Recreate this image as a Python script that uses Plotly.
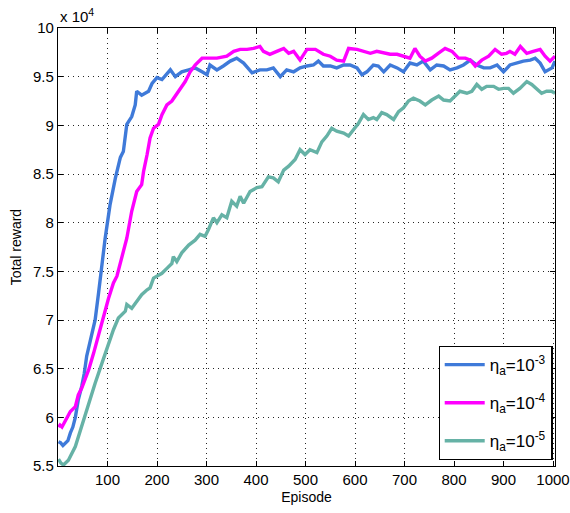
import plotly.graph_objects as go

# Total reward in units of 1e4
ep_1e3 = [1, 5, 10, 15, 20, 25, 30, 35, 41, 48,
          53, 58, 65, 75, 82, 89, 95, 105, 116, 126,
          132, 139, 149, 156, 159, 169, 183, 190, 200, 210,
          227, 237, 250, 264, 277, 291, 301, 307, 321, 334,
          348, 361, 375, 392, 408, 422, 435, 449, 462, 476,
          489, 503, 516, 526, 536, 550, 563, 577, 590, 604,
          614, 624, 637, 647, 658, 671, 685, 698, 711, 725,
          738, 752, 765, 779, 792, 806, 819, 833, 846, 860,
          873, 887, 900, 913, 927, 940, 954, 964, 974, 984,
          998, 1004]
rw_1e3 = [5.75, 5.74, 5.71, 5.73, 5.76, 5.84, 5.90, 6.00, 6.18, 6.32,
          6.45, 6.63, 6.80, 7.00, 7.28, 7.62, 7.83, 8.18, 8.46, 8.67,
          8.73, 9.01, 9.09, 9.21, 9.35, 9.31, 9.35, 9.43, 9.49, 9.47,
          9.57, 9.50, 9.55, 9.57, 9.59, 9.55, 9.52, 9.62, 9.57, 9.61,
          9.66, 9.69, 9.64, 9.54, 9.57, 9.57, 9.59, 9.50, 9.57, 9.55,
          9.59, 9.61, 9.62, 9.66, 9.61, 9.61, 9.59, 9.62, 9.62, 9.59,
          9.52, 9.55, 9.62, 9.61, 9.55, 9.62, 9.59, 9.55, 9.64, 9.62,
          9.66, 9.57, 9.62, 9.61, 9.57, 9.59, 9.62, 9.67, 9.62, 9.59,
          9.59, 9.62, 9.55, 9.62, 9.64, 9.66, 9.67, 9.69, 9.64, 9.55,
          9.59, 9.66]

ep_1e4 = [1, 4, 8, 15, 25, 35, 41, 48, 55, 62,
          72, 79, 89, 95, 102, 112, 119, 126, 132, 139,
          149, 159, 169, 173, 180, 186, 193, 203, 210, 220,
          230, 237, 247, 257, 267, 277, 291, 304, 321, 341,
          355, 368, 382, 395, 408, 415, 428, 442, 456, 466,
          476, 489, 503, 520, 536, 550, 563, 577, 587, 604,
          617, 631, 644, 658, 671, 685, 698, 711, 721, 731,
          742, 755, 768, 782, 796, 809, 823, 833, 843, 856,
          870, 883, 896, 906, 913, 923, 934, 947, 960, 974,
          984, 994, 1004]
rw_1e4 = [5.90, 5.92, 5.90, 5.97, 6.06, 6.11, 6.23, 6.30, 6.39, 6.49,
          6.66, 6.80, 7.00, 7.09, 7.22, 7.38, 7.45, 7.58, 7.69, 7.84,
          8.12, 8.32, 8.39, 8.53, 8.70, 8.87, 8.97, 9.01, 9.11, 9.21,
          9.25, 9.30, 9.38, 9.45, 9.55, 9.62, 9.69, 9.69, 9.69, 9.71,
          9.76, 9.78, 9.78, 9.79, 9.81, 9.76, 9.73, 9.76, 9.79, 9.74,
          9.76, 9.67, 9.78, 9.78, 9.73, 9.71, 9.67, 9.66, 9.79, 9.78,
          9.76, 9.74, 9.76, 9.74, 9.73, 9.73, 9.71, 9.69, 9.79, 9.71,
          9.66, 9.69, 9.74, 9.79, 9.76, 9.69, 9.69, 9.67, 9.61, 9.67,
          9.71, 9.78, 9.73, 9.74, 9.76, 9.73, 9.81, 9.74, 9.76, 9.78,
          9.71, 9.66, 9.71]

ep_1e5 = [1, 6, 11, 21, 35, 48, 62, 75, 89, 102,
          112, 122, 136, 139, 149, 159, 169, 180, 186, 193,
          203, 210, 220, 230, 233, 240, 250, 264, 277, 287,
          297, 304, 314, 321, 331, 341, 351, 361, 368, 375,
          388, 402, 412, 425, 435, 445, 456, 466, 479, 489,
          499, 509, 523, 533, 543, 553, 563, 577, 587, 597,
          607, 617, 627, 637, 644, 654, 664, 678, 688, 698,
          708, 718, 731, 742, 755, 769, 779, 792, 802, 812,
          826, 836, 846, 856, 866, 880, 890, 900, 910, 920,
          933, 947, 957, 967, 977, 987, 997, 1004]
rw_1e5 = [5.57, 5.53, 5.51, 5.56, 5.70, 5.92, 6.15, 6.35, 6.56, 6.76,
          6.90, 7.02, 7.09, 7.16, 7.12, 7.19, 7.26, 7.31, 7.33, 7.43,
          7.46, 7.48, 7.53, 7.58, 7.65, 7.60, 7.69, 7.77, 7.82, 7.88,
          7.86, 7.93, 8.05, 8.00, 8.08, 8.05, 8.22, 8.17, 8.27, 8.20,
          8.32, 8.36, 8.37, 8.47, 8.46, 8.42, 8.54, 8.58, 8.65, 8.75,
          8.70, 8.75, 8.72, 8.83, 8.89, 8.97, 8.94, 8.92, 8.89, 8.95,
          9.02, 9.11, 9.06, 9.08, 9.06, 9.13, 9.11, 9.06, 9.14, 9.18,
          9.25, 9.28, 9.25, 9.21, 9.26, 9.30, 9.26, 9.25, 9.30, 9.35,
          9.33, 9.35, 9.42, 9.37, 9.40, 9.40, 9.37, 9.38, 9.38, 9.33,
          9.38, 9.45, 9.42, 9.38, 9.33, 9.35, 9.35, 9.33]

x_ticks = [100, 200, 300, 400, 500, 600, 700, 800, 900, 1000]
y_ticks = [5.5, 6, 6.5, 7, 7.5, 8, 8.5, 9, 9.5, 10]
y_tick_labels = ["5.5", "6", "6.5", "7", "7.5", "8", "8.5", "9", "9.5", "10"]

series = [
    (ep_1e3, rw_1e3, "η<sub>a</sub>=10<sup>-3</sup>", "#3F7AD9"),
    (ep_1e4, rw_1e4, "η<sub>a</sub>=10<sup>-4</sup>", "#FF00FF"),
    (ep_1e5, rw_1e5, "η<sub>a</sub>=10<sup>-5</sup>", "#66B2A6"),
]

fig = go.Figure()
for i, (xs, ys, name, color) in enumerate(series):
    assert len(xs) == len(ys)
    fig.add_trace(go.Scatter(x=xs, y=ys, mode="lines", name=name,
                             legendgroup=f"g{i}",
                             line=dict(color=color, width=3.4)))

font_family = "Liberation Sans, Arial, sans-serif"
axis_common = dict(
    showline=True, linecolor="black", linewidth=1.2, mirror="ticks",
    ticks="inside", ticklen=5, tickcolor="black", tickwidth=1,
    showgrid=True, gridcolor="rgba(0,0,0,0.85)", gridwidth=1, griddash="1px,4px",
    zeroline=False, automargin=False,
    tickfont=dict(size=15, color="black", family=font_family),
)

fig.update_layout(
    width=570, height=513,
    margin=dict(l=58, r=15, t=28, b=47),
    plot_bgcolor="white", paper_bgcolor="white",
    font=dict(family=font_family, color="black"),
    showlegend=True,
    legend=dict(x=0.995, y=0.014, xanchor="right", yanchor="bottom",
                bgcolor="white", bordercolor="black", borderwidth=1.2,
                font=dict(size=17, color="black", family=font_family),
                tracegroupgap=13, itemwidth=40),
    xaxis=dict(range=[0, 1004], tickvals=x_ticks,
               title=dict(text="Episode", standoff=5,
                          font=dict(size=14, color="black", family=font_family)),
               **axis_common),
    yaxis=dict(range=[5.5, 10], tickvals=y_ticks, ticktext=y_tick_labels,
               title=dict(text="Total reward", standoff=8,
                          font=dict(size=14, color="black", family=font_family)),
               **axis_common),
    annotations=[dict(x=0, y=1, xref="paper", yref="paper", xanchor="left",
                      yanchor="bottom", yshift=1, showarrow=False,
                      text="x 10<sup>4</sup>",
                      font=dict(size=15, color="black", family=font_family))],
)

fig.write_html("out.html",
               config={"displayModeBar": False},
               post_script="document.body.style.margin='0';document.body.style.overflow='hidden';")
